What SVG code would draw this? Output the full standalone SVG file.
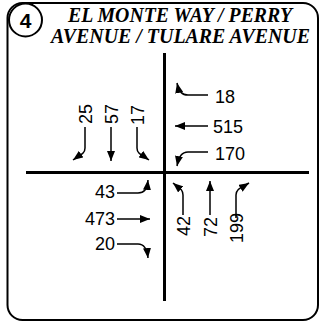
<svg xmlns="http://www.w3.org/2000/svg" width="320" height="322" viewBox="0 0 320 322">
<style>
.frame{fill:none;stroke:#000;stroke-width:2}
.road{stroke:#000;stroke-width:3;fill:none}
.arr{stroke:#000;stroke-width:1.5;fill:none;marker-end:url(#ah)}
.num{font-family:"Liberation Sans",Arial,sans-serif;font-size:18px;fill:#000}
.title{font-family:"Liberation Serif","Times New Roman",serif;font-size:20px;font-weight:bold;font-style:italic;fill:#000}
</style>
<defs>
<marker id="ah" viewBox="0 0 10 8" refX="10" refY="4" markerWidth="10" markerHeight="8" markerUnits="userSpaceOnUse" orient="auto">
<path d="M0,0 L10,4 L0,8 z" fill="#000"/>
</marker>
</defs>
<rect id="frame" class="frame" x="7.5" y="3" width="310.5" height="317" rx="15"/>
<g id="badge">
<circle cx="25.5" cy="20" r="16.5" fill="#fff" stroke="#000" stroke-width="2"/>
<text x="25.5" y="28" text-anchor="middle" font-family="Liberation Sans,Arial,sans-serif" font-size="21" font-weight="bold">4</text>
</g>
<g id="title">
<text class="title" x="68" y="22" textLength="224" lengthAdjust="spacingAndGlyphs">EL MONTE WAY / PERRY</text>
<text class="title" x="51" y="43" textLength="259" lengthAdjust="spacingAndGlyphs">AVENUE / TULARE AVENUE</text>
</g>
<g id="roads">
<line class="road" x1="164.5" y1="53" x2="164.5" y2="301"/>
<line class="road" x1="26" y1="172.5" x2="309" y2="172.5"/>
</g>
<g id="connectors">
<path class="arr" d="M208,95 H188 C182,95 179,92 177,83"/>
<path class="arr" d="M208,126 H175"/>
<path class="arr" d="M208,152 H188 C182,152 179,156 177,166"/>
<path class="arr" d="M85,127 V148 C85,154 80,155 73,160"/>
<path class="arr" d="M111,127 V161"/>
<path class="arr" d="M137,127 V148 C137,154 142,155 149,160"/>
<path class="arr" d="M117,193 H138 C144,193 147,190 148,180"/>
<path class="arr" d="M117,219 H150"/>
<path class="arr" d="M117,244 H138 C144,244 147,248 148,258"/>
<path class="arr" d="M183,215 V195 C183,189 179,188 173,183"/>
<path class="arr" d="M210,215 V181"/>
<path class="arr" d="M236,218 V195 C236,189 241,188 249,183"/>
</g>
<g id="westbound">
<text class="num" x="215" y="103">18</text>
<text class="num" x="213" y="133">515</text>
<text class="num" x="215" y="160">170</text>
</g>
<g id="southbound">
<text class="num" transform="translate(92,124) rotate(-90)">25</text>
<text class="num" transform="translate(118,124) rotate(-90)">57</text>
<text class="num" transform="translate(144,125) rotate(-90)">17</text>
</g>
<g id="eastbound">
<text class="num" x="115" y="198" text-anchor="end">43</text>
<text class="num" x="115" y="225" text-anchor="end">473</text>
<text class="num" x="115" y="250" text-anchor="end">20</text>
</g>
<g id="northbound">
<text class="num" transform="translate(190,236) rotate(-90)">42</text>
<text class="num" transform="translate(217,237) rotate(-90)">72</text>
<text class="num" transform="translate(243,243) rotate(-90)">199</text>
</g>
</svg>
